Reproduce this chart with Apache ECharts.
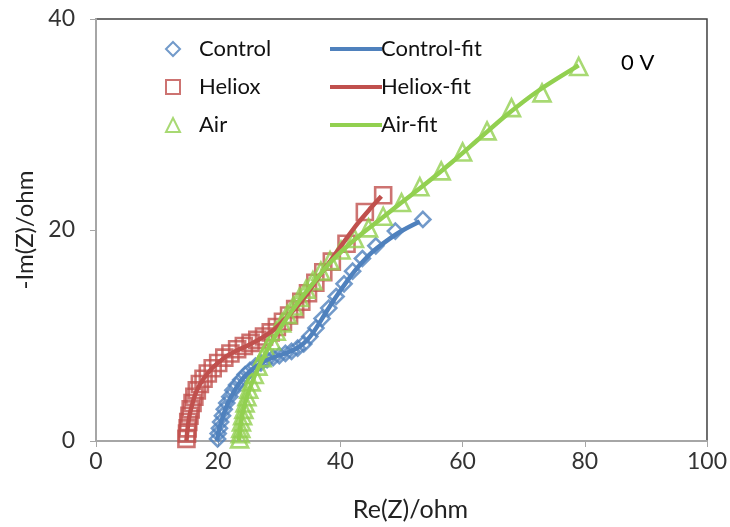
<!DOCTYPE html>
<html>
<head>
<meta charset="utf-8">
<script src="https://cdn.jsdelivr.net/npm/echarts@6/dist/echarts.min.js"></script>
<style>
  html, body { margin: 0; padding: 0; background: #fff; }
  #main { width: 730px; height: 527px; }
</style>
</head>
<body>
<div id="main"></div>
<script>
// Nyquist plot, 0 V
var controlData = [[19.9,0.2],[20,0.7],[20.2,1.2],[20.4,1.8],[20.7,2.4],[21,3],[21.4,3.6],[21.9,4.2],
  [22.4,4.8],[23,5.3],[23.7,5.8],[24.4,6.3],[25.2,6.7],[26.1,7.1],[27,7.4],[28,7.7],[29,7.9],[30,8.1],
  [31,8.3],[32,8.5],[33,8.8],[34,9.2],[35,9.9],[36,10.7],[37,11.6],[38.1,12.6],[39.3,13.7],[40.6,14.9],
  [42,16.1],[43.6,17.3],[45.8,18.5],[49,19.9],[53.5,21]];
var helioxData = [[14.8,0.2],[14.9,0.7],[15,1.2],[15.1,1.8],[15.3,2.4],[15.5,3],[15.8,3.6],[16.1,4.2],
  [16.5,4.8],[17,5.4],[17.6,5.9],[18.3,6.4],[19.1,6.9],[20,7.4],[21,7.9],[22,8.3],[23.1,8.7],[24.2,9],
  [25.3,9.3],[26.4,9.6],[27.5,9.9],[28.6,10.3],[29.6,10.8],[30.6,11.3],[31.6,11.9],[32.6,12.5],[33.6,13.2],
  [34.7,14],[35.9,15],[37.2,16],[38.6,17],[41,18.7],[44,21.7],[47,23.3]];
var airData = [[23.5,0.2],[23.6,0.7],[23.7,1.2],[23.8,1.8],[24,2.4],[24.2,3],[24.4,3.6],[24.7,4.2],
  [25,4.9],[25.4,5.6],[25.9,6.3],[26.5,7.1],[27.2,7.9],[27.9,8.7],[28.7,9.5],[29.5,10.4],[30.4,11.2],
  [31.3,12],[32.3,12.8],[33.3,13.6],[34.4,14.4],[35.5,15.2],[36.8,16.1],[38.3,17.1],[40.1,18.1],[42.3,19.2],
  [44.6,20.2],[47,21.3],[50,22.6],[53,24.1],[56.5,25.6],[60,27.4],[64,29.4],[68,31.6],[73,33],[79,35.5]];

var controlFit = [[19.8,0],[20.2,1.2],[20.8,2.4],[21.6,3.6],[22.7,4.8],[24,5.9],[25.6,6.8],[27.4,7.5],
  [29.4,8],[31.4,8.4],[33.2,8.9],[34.6,9.6],[35.8,10.5],[37,11.6],[38.3,12.8],[39.8,14.1],[41.4,15.4],
  [43.2,16.7],[45.2,17.9],[47.4,18.9],[50,19.9],[53,20.8]];
var helioxFit = [[14.8,0],[15,1.2],[15.3,2.4],[15.8,3.6],[16.5,4.8],[17.6,5.9],[19,6.9],[20.8,7.8],
  [22.8,8.5],[25,9.1],[27.2,9.8],[29.2,10.6],[31,11.6],[32.8,12.7],[34.6,14],[36.4,15.5],[38.4,17.1],
  [40.5,18.8],[42.8,20.6],[45,22.1],[46.7,23.2]];
var airFit = [[23.4,0],[23.6,1.2],[24,2.6],[24.6,4],[25.5,5.5],[26.6,7],[28,8.6],[29.6,10.2],[31.4,11.8],
  [33.4,13.4],[35.6,15],[38,16.7],[40.6,18.2],[43.4,19.6],[46.5,21],[50,22.6],[54,24.4],[58.2,26.4],
  [62.6,28.6],[67.2,30.9],[72.4,33.2],[79,35.6]];

var blue = '#4f81bd', red = '#c0504d', green = '#92d050';
var font = 'Lato';

var myChart = echarts.init(document.getElementById('main'));

function markers(name, data, color, symbol, size) {
  return {
    name: name, type: 'scatter', data: data,
    symbol: symbol, symbolSize: size,
    itemStyle: { color: 'transparent', borderColor: color, borderWidth: 2.6 },
    z: 2
  };
}
function fit(name, data, color) {
  return {
    name: name, type: 'line', data: data, smooth: 0.3,
    showSymbol: false, symbol: 'none',
    itemStyle: { color: color },
    lineStyle: { color: color, width: 4.5 },
    z: 3
  };
}

var option = {
  animation: false,
  title: {
    text: '0 V', left: 616, top: 47,
    textStyle: { fontFamily: font, fontSize: 22, fontWeight: 'normal', color: '#000' }
  },
  grid: {
    left: 96, right: 22, top: 19, bottom: 86,
    show: true, borderColor: '#404040', borderWidth: 1.5
  },
  legend: [{
    data: ['Control', 'Heliox', 'Air'],
    orient: 'vertical', left: 160, top: 32,
    itemWidth: 14, itemHeight: 14, itemGap: 14,
    textStyle: { fontFamily: font, fontSize: 22, color: '#111', lineHeight: 24, padding: [0, 0, 0, 14] }
  }, {
    data: ['Control-fit', 'Heliox-fit', 'Air-fit'],
    orient: 'vertical', left: 325, top: 32,
    icon: 'rect', itemWidth: 52, itemHeight: 4, itemGap: 14,
    textStyle: { fontFamily: font, fontSize: 22, color: '#111', lineHeight: 24, padding: [0, 0, 0, -6] }
  }],
  xAxis: {
    type: 'value', min: 0, max: 100, interval: 20,
    name: 'Re(Z)/ohm', nameLocation: 'middle', nameGap: 56,
    nameTextStyle: { fontFamily: font, fontSize: 25, color: '#222', padding: [0, 0, 0, 18] },
    axisLine: { show: true, lineStyle: { color: '#a6a6a6', width: 2 } },
    axisTick: { show: true, length: 6, lineStyle: { color: '#a6a6a6' } },
    axisLabel: { fontFamily: font, fontSize: 23, color: '#333', margin: 9 },
    splitLine: { show: false }
  },
  yAxis: {
    type: 'value', min: 0, max: 40, interval: 20,
    name: '-Im(Z)/ohm', nameLocation: 'middle', nameGap: 54,
    nameTextStyle: { fontFamily: font, fontSize: 24, color: '#222' },
    axisLine: { show: true, lineStyle: { color: '#a6a6a6', width: 2 } },
    axisTick: { show: true, length: 6, lineStyle: { color: '#a6a6a6' } },
    axisLabel: { fontFamily: font, fontSize: 23, color: '#333', margin: 21 },
    splitLine: { show: false }
  },
  series: [
    markers('Control', controlData, blue, 'diamond', 15),
    markers('Heliox', helioxData, red, 'rect', 16),
    markers('Air', airData, green, 'triangle', 17),
    fit('Control-fit', controlFit, blue),
    fit('Heliox-fit', helioxFit, red),
    fit('Air-fit', airFit, green)
  ]
};

myChart.setOption(option);
</script>
</body>
</html>
